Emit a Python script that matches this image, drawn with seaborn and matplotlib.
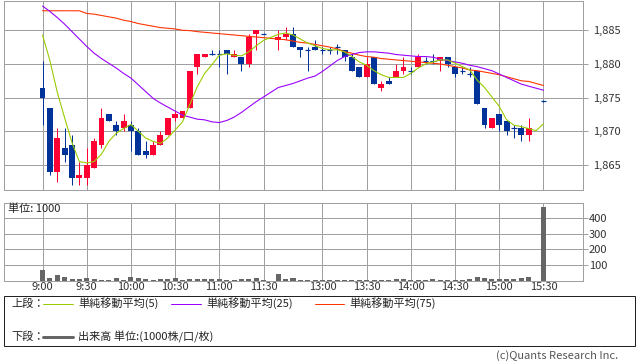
import matplotlib
matplotlib.use("Agg")
import matplotlib.pyplot as plt
import seaborn as sns
import pandas as pd
from matplotlib.patches import Rectangle
from matplotlib.lines import Line2D

sns.set_theme(style="white")
plt.rcParams['font.family'] = ['Noto Sans CJK JP', 'DejaVu Sans']

# ---------------- data ----------------
morning_times = [f"{h}:{m:02d}" for h in (9, 10, 11) for m in range(0, 60, 5)
                 if (h * 60 + m) <= 690]
afternoon_times = [f"{h}:{m:02d}" for h in (12, 13, 14, 15) for m in range(0, 60, 5)
                   if 750 <= (h * 60 + m) <= 930]
ma_times = morning_times + afternoon_times
candle_times = [t for t in ma_times if t != "15:25"]

opens = [1876.5, 1873.5, 1864, 1867.5, 1868, 1863, 1863, 1864.5, 1868, 1872.5,
         1871, 1870.5, 1871, 1870, 1867, 1866.5, 1868, 1869.5, 1872, 1872,
         1873.5, 1879.5, 1881, 1881.5, 1881.5, 1882, 1881, 1881, 1880, 1884.5,
         1884.5,
         1883.5, 1884, 1884.5, 1882.5, 1882, 1882.5, 1882, 1882, 1882.5, 1882,
         1881, 1879.5, 1878, 1881, 1876.5, 1877.5, 1878, 1879, 1879, 1879.5,
         1880.5, 1880.5, 1880.5, 1881, 1879.5, 1879, 1878.5, 1879, 1873.5, 1870.5,
         1872.5, 1871.5, 1870.5, 1870.5, 1869.5,
         1874.5]
highs = [1880.5, 1873.5, 1870.5, 1870.5, 1869.5, 1865.5, 1867.5, 1869, 1873.5, 1872.5,
         1871.5, 1872.5, 1871.5, 1870.5, 1868.5, 1868.5, 1870, 1872, 1873, 1873,
         1879, 1881.5, 1881.5, 1882, 1882, 1882, 1882, 1881, 1884.5, 1885,
         1884.6,
         1885, 1885.5, 1885.5, 1882.5, 1882.5, 1883.5, 1882.5, 1882.5, 1883, 1882,
         1881.5, 1879.5, 1881, 1881, 1877.5, 1878, 1880, 1881, 1879.5, 1881.5,
         1881, 1881.5, 1881, 1881, 1879.5, 1879.5, 1879.5, 1879, 1873.5, 1872,
         1872.5, 1871.5, 1871, 1871, 1872,
         1874.7]
lows = [1871, 1863.5, 1862.5, 1865.5, 1862, 1862, 1862, 1864.5, 1867.5, 1871.5,
        1869.5, 1870, 1867, 1866.5, 1866, 1866.5, 1868, 1869.5, 1871.5, 1872,
        1873.5, 1878.5, 1881, 1881.3, 1879.5, 1878.5, 1881, 1879, 1879.5, 1882,
        1884.4,
        1882, 1883.5, 1882.5, 1881, 1879, 1882, 1881.5, 1881.5, 1881.5, 1880.5,
        1879, 1878, 1878, 1877, 1876, 1877, 1878, 1878.5, 1878.5, 1879.5,
        1880, 1880, 1879, 1879.5, 1878, 1878.5, 1878, 1874, 1870.5, 1870.5,
        1870, 1869.5, 1869, 1868.5, 1868.5,
        1874.3]
closes = [1875, 1864, 1869, 1866.5, 1863, 1863.5, 1865, 1868.5, 1872, 1871.5,
          1870, 1871.5, 1870, 1866.5, 1866.5, 1868, 1869.5, 1872, 1872.5, 1873,
          1879, 1881.5, 1881.5, 1881.5, 1881.5, 1881.5, 1881.5, 1880, 1884, 1885,
          1884.5,
          1884, 1884.5, 1882.5, 1882, 1882, 1882, 1882, 1882, 1882.5, 1881,
          1879, 1878, 1880, 1877, 1877, 1877, 1879, 1879.5, 1879, 1881,
          1880.5, 1880.5, 1881, 1880, 1878.5, 1879, 1878.5, 1874, 1871, 1872,
          1871, 1870, 1870.5, 1869.5, 1870.5,
          1874.5]
volumes = [68, 17, 38, 23, 13, 11, 17, 11, 8, 6,
           17, 8, 23, 17, 11, 6, 11, 11, 19, 8,
           11, 11, 10, 11, 11, 6, 6, 11, 13, 17,
           4,
           43, 13, 17, 6, 8, 4, 6, 4, 6, 4,
           6, 4, 6, 8, 6, 8, 11, 11, 6, 6,
           4, 11, 8, 4, 4, 8, 13, 23, 17, 13,
           13, 13, 13, 17, 23,
           470]
ma5 = [1884.3, 1880.5, 1875.8, 1872.0, 1868.3, 1865.5, 1865.3, 1865.5, 1866.6, 1868.5,
       1869.7, 1870.4, 1871.0, 1870.0, 1869.0, 1868.5, 1868.2, 1869.0, 1870.2, 1871.4,
       1874.0, 1876.6, 1878.6, 1879.9, 1881.3, 1881.5, 1881.3, 1881.2, 1881.8, 1882.7,
       1883.5,
       1884.4, 1884.6, 1884.3, 1883.7, 1883.1, 1882.7, 1882.3, 1882.1, 1882.1, 1881.8,
       1881.1, 1880.3, 1879.8, 1879.0, 1878.4, 1878.0, 1878.0, 1878.0, 1878.6, 1879.4,
       1880.0, 1880.3, 1880.6, 1880.6, 1880.1, 1879.6, 1879.1, 1877.6, 1876.5, 1875.1,
       1873.7, 1871.7, 1870.9, 1870.7, 1870.4, 1870.1, 1871.1]
ma25 = [1888.6, 1887.8, 1886.9, 1885.9, 1884.8, 1883.7, 1882.6, 1881.6, 1880.8, 1880.1,
        1879.4, 1878.6, 1877.9, 1876.9, 1875.9, 1874.9, 1874.2, 1873.6, 1873.0, 1872.4,
        1872.1, 1871.8, 1871.7, 1871.4, 1871.3, 1871.6, 1872.1, 1872.8, 1873.6, 1874.4,
        1875.1,
        1876.5, 1876.8, 1877.1, 1877.5, 1877.9, 1878.2, 1878.9, 1879.7, 1880.5, 1881.1,
        1881.4, 1881.7, 1881.8, 1881.8, 1881.7, 1881.6, 1881.4, 1881.3, 1881.2, 1881.1,
        1881.1, 1881.0, 1880.7, 1880.5, 1880.3, 1880.1, 1879.8, 1879.6, 1879.3, 1879.0,
        1878.5, 1878.0, 1877.5, 1877.0, 1876.7, 1876.4, 1876.1]
ma75 = [1887.9, 1887.9, 1887.9, 1887.9, 1887.9, 1887.9, 1887.5, 1887.4, 1887.2, 1887.0,
        1886.8, 1886.5, 1886.3, 1886.0, 1885.8, 1885.6, 1885.4, 1885.3, 1885.2, 1885.0,
        1884.95, 1884.8, 1884.7, 1884.6, 1884.5, 1884.4, 1884.3, 1884.2, 1884.1, 1884.0,
        1883.9,
        1883.7, 1883.6, 1883.4, 1883.2, 1883.1, 1882.9, 1882.7, 1882.5, 1882.25, 1881.8,
        1881.6, 1881.3, 1881.1, 1881.0, 1880.8, 1880.7, 1880.6, 1880.5, 1880.4, 1880.3,
        1880.2, 1880.1, 1880.0, 1879.8, 1879.6, 1879.4, 1879.1, 1879.0, 1878.8, 1878.6,
        1878.4, 1878.1, 1877.8, 1877.5, 1877.4, 1877.1, 1876.8]
xtick_labels = ["9:00", "9:30", "10:00", "10:30", "11:00", "11:30",
                "13:00", "13:30", "14:00", "14:30", "15:00", "15:30"]
price_ticks = [1865, 1870, 1875, 1880, 1885]
vol_ticks = [100, 200, 300, 400]


def slot(t):
    h, m = map(int, t.split(":"))
    mins = h * 60 + m
    if mins <= 690:
        return (mins - 540) / 5
    return (mins - 750) / 5 + 32


# ---------------- style ----------------
RED = "#ff0033"
BLUE = "#003399"
C5 = "#99cc00"
C25 = "#9900ff"
C75 = "#ff3300"
VOLC = "#666666"
GRID = "#a0a0a0"
TXT = "#333333"
PX = 0.72

W, H = 638, 362
fig = plt.figure(figsize=(W / 100, H / 100), dpi=100)
fig.patch.set_facecolor("white")

L, R = 3.5, 582.5
ax = fig.add_axes([L / W, 1 - 190 / H, (R - L) / W, 189 / H])
axv = fig.add_axes([L / W, 1 - 281 / H, (R - L) / W, 78.5 / H])

cdf = pd.DataFrame({"time": candle_times, "open": opens, "high": highs,
                    "low": lows, "close": closes, "volume": volumes})
cdf["x"] = cdf["time"].map(slot)
mdf = pd.DataFrame({"time": ma_times, "ma5": ma5, "ma25": ma25, "ma75": ma75})
mdf["x"] = mdf["time"].map(slot)

xmin, xmax = -5.3, 73.3
tick_x = [slot(t) for t in xtick_labels]

for a in (ax, axv):
    a.set_facecolor("white")
    a.set_xlim(xmin, xmax)
    for s in a.spines.values():
        s.set_color(GRID)
        s.set_linewidth(1 * PX)
    a.set_xticks(tick_x)
    for xv in tick_x:
        a.axvline(xv, color=GRID, lw=1 * PX, zorder=0)
    a.yaxis.tick_right()
    a.tick_params(axis="y", which="both", direction="out", length=3.6, width=PX,
                  color=GRID, labelsize=8, labelcolor=TXT, right=True, left=False)
    a.tick_params(axis="x", length=0)

# ---- price panel ----
ax.set_ylim(1861.28, 1889.35)
ax.set_yticks(price_ticks)
ax.set_yticklabels([f"{v:,}" for v in price_ticks])
ax.tick_params(axis="y", pad=4)
ax.set_xticklabels([])
for yv in price_ticks:
    ax.axhline(yv, color=GRID, lw=1 * PX, zorder=0)

bw = 0.8
for _, r in cdf.iterrows():
    up = r["close"] > r["open"]
    col = RED if up else BLUE
    ax.vlines(r["x"], r["low"], r["high"], color=col, lw=1 * PX, zorder=3)
    if abs(r["close"] - r["open"]) < 1e-6:
        ax.hlines(r["open"], r["x"] - 0.36, r["x"] + 0.36, color=col, lw=1.2 * PX, zorder=3)
    else:
        lo = min(r["open"], r["close"])
        ax.bar(r["x"], abs(r["close"] - r["open"]), bottom=lo, width=bw,
               color=col, linewidth=0, zorder=3)

sns.lineplot(data=mdf, x="x", y="ma75", ax=ax, color=C75, lw=1.1 * PX, zorder=4)
sns.lineplot(data=mdf, x="x", y="ma25", ax=ax, color=C25, lw=1.1 * PX, zorder=4)
sns.lineplot(data=mdf, x="x", y="ma5", ax=ax, color=C5, lw=1.1 * PX, zorder=4)
ax.set_xlabel("")
ax.set_ylabel("")
ax.set_xlim(xmin, xmax)

# ---- volume panel ----
axv.set_ylim(0, 497)
axv.set_yticks(vol_ticks)
axv.set_yticklabels([str(v) for v in vol_ticks])
axv.tick_params(axis="y", pad=1)
for yv in vol_ticks:
    axv.axhline(yv, color=GRID, lw=1 * PX, zorder=0)
axv.bar(cdf["x"], cdf["volume"], width=0.68, color=VOLC, linewidth=0, zorder=3)
axv.set_xticklabels(xtick_labels)
axv.tick_params(axis="x", labelsize=8, labelcolor=TXT, pad=1)
axv.set_xlabel("")
axv.set_ylabel("")
axv.text(8.3 / (R - L) * 1.0 - 0.0, 0, "", transform=axv.transAxes)
fig.text(8 / W, 1 - 208.5 / H, "単位: 1000", fontsize=8, color="#222222",
         ha="left", va="center")

# ---- legend box ----
fig.patches.append(Rectangle((3.5 / W, 1 - 346 / H), (635 - 3.5) / W, (346 - 295.7) / H,
                             transform=fig.transFigure, fill=False,
                             edgecolor="#222222", lw=1 * PX))


def legend_item(y, x0, x1, col, lw, label):
    fig.add_artist(Line2D([x0 / W, x1 / W], [1 - y / H, 1 - y / H], color=col, lw=lw,
                          transform=fig.transFigure))
    fig.text((x1 + 5.5) / W, 1 - y / H, label, fontsize=8, color="#222222",
             ha="left", va="center")


fig.text(11.5 / W, 1 - 303.5 / H, "上段：", fontsize=8, color="#222222", ha="left", va="center")
legend_item(303.5, 43, 73, C5, 1 * PX, "単純移動平均(5)")
legend_item(303.5, 171, 201, C25, 1 * PX, "単純移動平均(25)")
legend_item(303.5, 315, 344, C75, 1 * PX, "単純移動平均(75)")
fig.text(11.5 / W, 1 - 336.5 / H, "下段：", fontsize=8, color="#222222", ha="left", va="center")
legend_item(336.5, 43, 73, VOLC, 3 * PX, "出来高 単位:(1000株/口/枚)")

fig.text(618 / W, 1 - 356 / H, "(c)Quants Research Inc.", fontsize=8, color="#555555",
         ha="right", va="center")

fig.savefig("out.png", dpi=100, facecolor="white")
